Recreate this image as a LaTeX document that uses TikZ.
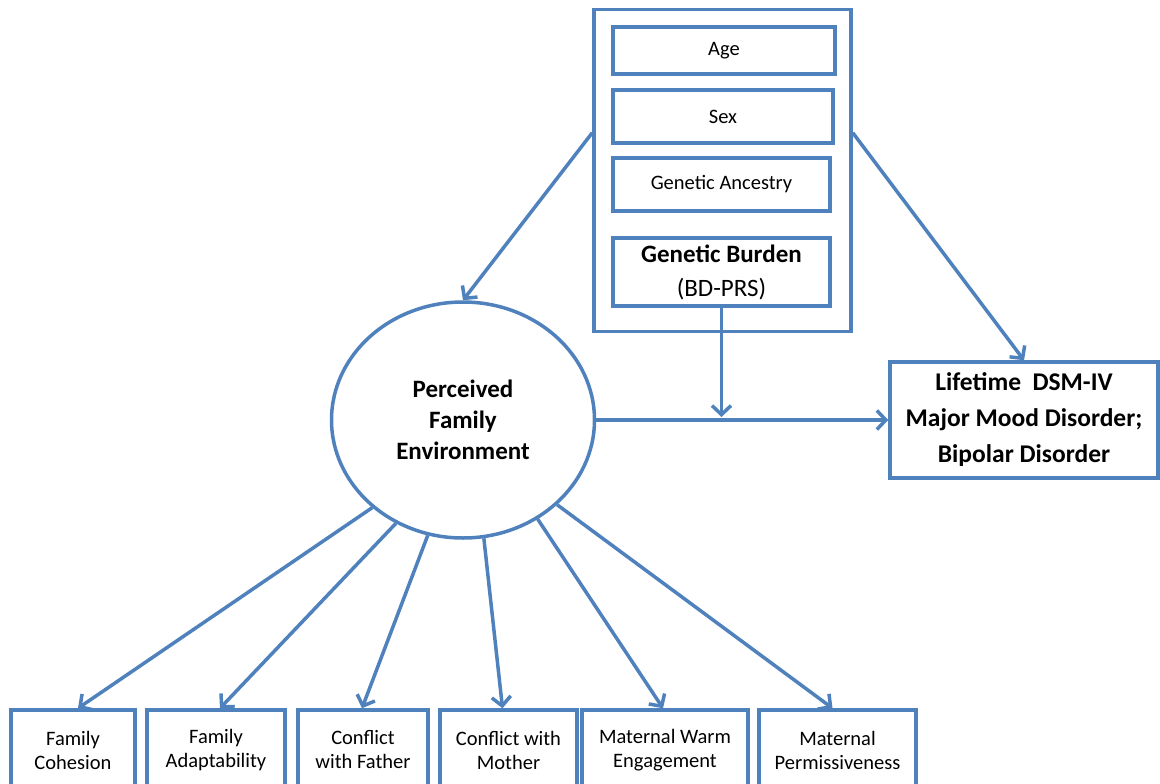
\documentclass[tikz,border=0pt]{standalone}
\usepackage{fontspec}
\setmainfont{Carlito}
\usetikzlibrary{arrows.meta,calc,shapes.geometric}
\definecolor{lineblue}{RGB}{79,129,189}
\tikzset{
  box/.style={draw=lineblue,line width=3.5pt,align=center,inner sep=0pt},
  smalltxt/.style={font=\fontsize{20.5}{24}\selectfont},
  arr/.style={draw=lineblue,line width=3.5pt,-{Straight Barb[length=9pt,width=19pt]}},
  plain/.style={draw=lineblue,line width=3.5pt}
}
\begin{document}
\begin{tikzpicture}[x=1pt,y=-1pt]
\useasboundingbox (0,0) rectangle (1160,784);
\clip (0,0) rectangle (1160,784);
% covariate block
\node[box,minimum width=257pt,minimum height=322pt] (outer) at (722.5,170.5) {};
\node[box,smalltxt,minimum width=222pt,minimum height=47pt] (age) at (724,50.5) {Age};
\node[box,smalltxt,minimum width=220pt,minimum height=53pt] (sex) at (723,116.5) {Sex};
\node[box,smalltxt,minimum width=217pt,minimum height=53pt] (anc) at (721.5,184.5) {Genetic Ancestry};
\node[box,minimum width=217pt,minimum height=68pt,font=\fontsize{25}{34}\selectfont] (gb) at (721.5,272) {\textbf{Genetic Burden}\\(BD-PRS)};
% outcome
\node[box,minimum width=268pt,minimum height=116pt,font=\bfseries\fontsize{25.5}{36}\selectfont] (life) at (1024,420) {Lifetime\ \ DSM-IV\\Major Mood Disorder;\\Bipolar Disorder};
% latent
\node[ellipse,draw=lineblue,line width=3.5pt,minimum width=263pt,minimum height=236pt,inner sep=0pt,align=center,font=\bfseries\fontsize{25}{31}\selectfont] (pfe) at (463,420) {Perceived\\Family\\Environment};
% indicators
\node[box,smalltxt,minimum width=124pt,minimum height=80pt] (b1) at (73,750) {Family\\Cohesion};
\node[box,smalltxt,minimum width=138pt,minimum height=80pt] (b2) at (216,750) {Family\\Adaptability};
\node[box,smalltxt,minimum width=130pt,minimum height=80pt] (b3) at (363,750) {Conflict\\with Father};
\node[box,smalltxt,minimum width=137pt,minimum height=80pt] (b4) at (508.5,750) {Conflict with\\Mother};
\node[box,smalltxt,minimum width=166pt,minimum height=80pt] (b5) at (665,750) {Maternal Warm\\Engagement};
\node[box,smalltxt,minimum width=157pt,minimum height=80pt] (b6) at (837.5,750) {Maternal\\Permissiveness};
% connectors
\coordinate (oL) at ($(outer.north west)+(0,125)$);
\coordinate (oR) at ($(outer.north east)+(0,125)$);
\draw[arr] (oL) -- (pfe.north);
\draw[arr] (oR) -- (life.north);
\draw[arr] (pfe.east) -- (life.west);
\coordinate (mod) at (gb.south |- pfe.east);
\draw[arr] (gb.south) -- ($(mod)+(0,-3)$);
\draw[arr] (pfe.-136.9) -- ($(b1.north)+(5,0)$);
\draw[arr] (pfe.-123.1) -- ($(b2.north)+(4,0)$);
\draw[arr] (pfe.-107.4) -- ($(b3.north)+(-1,0)$);
\draw[arr] (pfe.-80.2) -- ($(b4.north)+(-6,0)$);
\draw[arr] (pfe.-53) -- ($(b5.north)+(-2,0)$);
\draw[arr] (pfe.-42.8) -- ($(b6.north)+(-5,0)$);
\end{tikzpicture}
\end{document}
